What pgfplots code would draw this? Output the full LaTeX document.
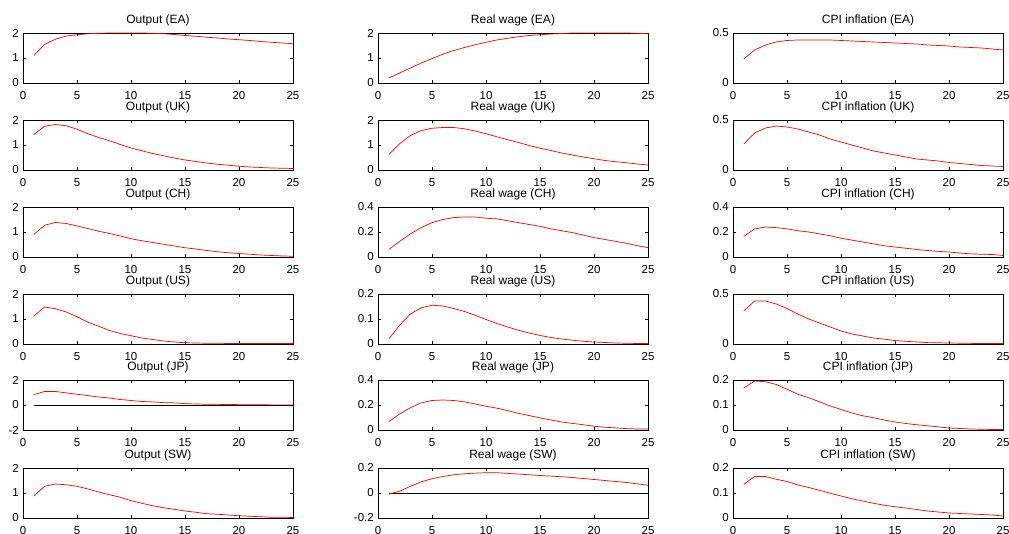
\documentclass[border=0pt]{standalone}
\usepackage{fontspec}
\setmainfont{Liberation Sans}
\usepackage{pgfplots}
\pgfplotsset{compat=1.18}
\pgfplotsset{irf/.style={
  scale only axis, width=270pt, height=50pt,
  xmin=0, xmax=25, xtick={0,5,10,15,20,25},
  anchor=south west,
  axis line style={line width=0.6pt, black},
  tick style={line width=0.5pt, black},
  major tick length=3pt,
  title style={font=\fontsize{12}{14}\selectfont, anchor=base, at={(0.5,1)}, yshift=3pt, inner sep=0pt},
  ticklabel style={font=\fontsize{11.5}{13}\selectfont},
  xticklabel style={anchor=base, yshift=-16.5pt, inner sep=0pt},
  yticklabel style={anchor=east, inner sep=0pt, xshift=-4pt},
  /pgf/number format/assume math mode=true,
  every axis plot/.append style={line width=0.7pt},
}}
\newcommand{\panel}[7]{%
\begin{axis}[irf, at={(#1pt,#2pt)}, title={#3}, ymin=#4, ymax=#5, ytick={#6}]
\addplot[black, line width=0.6pt] coordinates {(1,0) (25,0)};
\addplot[red] coordinates {#7};
\end{axis}}
\begin{document}
\begin{tikzpicture}
% Row 1: EA
\panel{23}{451}{Output (EA)}{0}{2}{0,1,2}{(1,1.1)(2,1.55)(3,1.75)(4,1.88)(5,1.93)(6,1.97)(7,1.99)(8,2.0)(9,2.0)(10,2.0)(11,2.0)(12,1.99)(13,1.97)(14,1.94)(15,1.9)(16,1.87)(17,1.83)(18,1.8)(19,1.76)(20,1.73)(21,1.7)(22,1.66)(23,1.63)(24,1.6)(25,1.57)}
\panel{378}{451}{Real wage (EA)}{0}{2}{0,1,2}{(1,0.2)(2,0.4)(3,0.6)(4,0.8)(5,0.98)(6,1.15)(7,1.3)(8,1.42)(9,1.53)(10,1.63)(11,1.72)(12,1.79)(13,1.85)(14,1.9)(15,1.93)(16,1.96)(17,1.98)(18,2.0)(19,2.0)(20,2.0)(21,2.0)(22,2.0)(23,2.0)(24,1.99)(25,1.97)}
\panel{733}{451}{CPI inflation (EA)}{0}{0.5}{0,0.5}{(1,0.24)(2,0.33)(3,0.38)(4,0.41)(5,0.425)(6,0.43)(7,0.43)(8,0.43)(9,0.43)(10,0.425)(11,0.42)(12,0.415)(13,0.41)(14,0.405)(15,0.4)(16,0.395)(17,0.39)(18,0.38)(19,0.375)(20,0.37)(21,0.36)(22,0.355)(23,0.35)(24,0.34)(25,0.33)}
% Row 2: UK
\panel{23}{364}{Output (UK)}{0}{2}{0,1,2}{(1,1.42)(2,1.75)(3,1.82)(4,1.77)(5,1.63)(6,1.45)(7,1.3)(8,1.17)(9,1.02)(10,0.88)(11,0.77)(12,0.66)(13,0.57)(14,0.48)(15,0.4)(16,0.34)(17,0.28)(18,0.23)(19,0.19)(20,0.15)(21,0.12)(22,0.1)(23,0.08)(24,0.07)(25,0.06)}
\panel{378}{364}{Real wage (UK)}{0}{2}{0,1,2}{(1,0.62)(2,1.05)(3,1.38)(4,1.58)(5,1.67)(6,1.7)(7,1.7)(8,1.65)(9,1.56)(10,1.45)(11,1.33)(12,1.21)(13,1.1)(14,0.98)(15,0.87)(16,0.78)(17,0.68)(18,0.6)(19,0.52)(20,0.45)(21,0.38)(22,0.33)(23,0.29)(24,0.24)(25,0.2)}
\panel{733}{364}{CPI inflation (UK)}{0}{0.5}{0,0.5}{(1,0.26)(2,0.37)(3,0.42)(4,0.44)(5,0.43)(6,0.41)(7,0.38)(8,0.35)(9,0.31)(10,0.28)(11,0.25)(12,0.22)(13,0.19)(14,0.17)(15,0.15)(16,0.13)(17,0.11)(18,0.1)(19,0.09)(20,0.075)(21,0.065)(22,0.055)(23,0.045)(24,0.04)(25,0.035)}
% Row 3: CH
\panel{23}{277}{Output (CH)}{0}{2}{0,1,2}{(1,0.9)(2,1.27)(3,1.38)(4,1.34)(5,1.24)(6,1.14)(7,1.03)(8,0.94)(9,0.84)(10,0.73)(11,0.65)(12,0.58)(13,0.51)(14,0.44)(15,0.37)(16,0.32)(17,0.26)(18,0.21)(19,0.17)(20,0.14)(21,0.11)(22,0.08)(23,0.06)(24,0.04)(25,0.03)}
\panel{378}{277}{Real wage (CH)}{0}{0.4}{0,0.2,0.4}{(1,0.06)(2,0.125)(3,0.185)(4,0.235)(5,0.275)(6,0.3)(7,0.315)(8,0.32)(9,0.32)(10,0.31)(11,0.305)(12,0.29)(13,0.275)(14,0.26)(15,0.245)(16,0.225)(17,0.21)(18,0.195)(19,0.175)(20,0.155)(21,0.14)(22,0.125)(23,0.11)(24,0.09)(25,0.075)}
\panel{733}{277}{CPI inflation (CH)}{0}{0.4}{0,0.2,0.4}{(1,0.165)(2,0.225)(3,0.24)(4,0.235)(5,0.225)(6,0.21)(7,0.2)(8,0.185)(9,0.17)(10,0.15)(11,0.135)(12,0.12)(13,0.105)(14,0.09)(15,0.08)(16,0.07)(17,0.06)(18,0.052)(19,0.045)(20,0.04)(21,0.032)(22,0.025)(23,0.022)(24,0.02)(25,0.012)}
% Row 4: US
\panel{23}{190}{Output (US)}{0}{2}{0,1,2}{(1,1.12)(2,1.48)(3,1.41)(4,1.28)(5,1.09)(6,0.87)(7,0.71)(8,0.54)(9,0.42)(10,0.33)(11,0.24)(12,0.18)(13,0.12)(14,0.08)(15,0.05)(16,0.04)(17,0.03)(18,0.03)(19,0.02)(20,0.02)(21,0.02)(22,0.02)(23,0.02)(24,0.02)(25,0.02)}
\panel{378}{190}{Real wage (US)}{0}{0.2}{0,0.1,0.2}{(1,0.02)(2,0.075)(3,0.12)(4,0.145)(5,0.155)(6,0.152)(7,0.142)(8,0.13)(9,0.115)(10,0.098)(11,0.082)(12,0.068)(13,0.055)(14,0.044)(15,0.034)(16,0.026)(17,0.02)(18,0.015)(19,0.011)(20,0.008)(21,0.006)(22,0.004)(23,0.003)(24,0.002)(25,0.002)}
\panel{733}{190}{CPI inflation (US)}{0}{0.5}{0,0.5}{(1,0.33)(2,0.43)(3,0.43)(4,0.4)(5,0.355)(6,0.3)(7,0.25)(8,0.21)(9,0.17)(10,0.13)(11,0.1)(12,0.08)(13,0.06)(14,0.048)(15,0.034)(16,0.027)(17,0.02)(18,0.014)(19,0.012)(20,0.01)(21,0.008)(22,0.006)(23,0.005)(24,0.004)(25,0.004)}
% Row 5: JP
\panel{23}{104}{Output (JP)}{-2}{2}{-2,0,2}{(1,0.83)(2,1.08)(3,1.08)(4,0.97)(5,0.86)(6,0.75)(7,0.64)(8,0.56)(9,0.44)(10,0.36)(11,0.28)(12,0.25)(13,0.19)(14,0.17)(15,0.11)(16,0.08)(17,0.06)(18,0.05)(19,0.04)(20,0.03)(21,0.02)(22,0.02)(23,0.01)(24,0.01)(25,0.01)}
\panel{378}{104}{Real wage (JP)}{0}{0.4}{0,0.2,0.4}{(1,0.067)(2,0.128)(3,0.178)(4,0.217)(5,0.236)(6,0.24)(7,0.236)(8,0.225)(9,0.208)(10,0.19)(11,0.175)(12,0.155)(13,0.133)(14,0.115)(15,0.097)(16,0.08)(17,0.064)(18,0.053)(19,0.042)(20,0.03)(21,0.022)(22,0.017)(23,0.011)(24,0.008)(25,0.008)}
\panel{733}{104}{CPI inflation (JP)}{0}{0.2}{0,0.1,0.2}{(1,0.168)(2,0.196)(3,0.193)(4,0.182)(5,0.163)(6,0.143)(7,0.129)(8,0.113)(9,0.096)(10,0.082)(11,0.068)(12,0.057)(13,0.049)(14,0.04)(15,0.032)(16,0.026)(17,0.021)(18,0.017)(19,0.0125)(20,0.008)(21,0.006)(22,0.004)(23,0.003)(24,0.002)(25,0.002)}
% Row 6: SW
\panel{23}{16}{Output (SW)}{0}{2}{0,1,2}{(1,0.88)(2,1.27)(3,1.36)(4,1.33)(5,1.27)(6,1.16)(7,1.04)(8,0.93)(9,0.83)(10,0.69)(11,0.59)(12,0.49)(13,0.41)(14,0.35)(15,0.28)(16,0.23)(17,0.17)(18,0.15)(19,0.12)(20,0.09)(21,0.07)(22,0.05)(23,0.03)(24,0.03)(25,0.02)}
\panel{378}{16}{Real wage (SW)}{-0.2}{0.2}{-0.2,0,0.2}{(1,-0.008)(2,0.014)(3,0.054)(4,0.089)(5,0.114)(6,0.132)(7,0.146)(8,0.154)(9,0.159)(10,0.162)(11,0.162)(12,0.157)(13,0.151)(14,0.146)(15,0.14)(16,0.135)(17,0.13)(18,0.124)(19,0.116)(20,0.108)(21,0.1)(22,0.092)(23,0.084)(24,0.073)(25,0.062)}
\panel{733}{16}{CPI inflation (SW)}{0}{0.2}{0,0.1,0.2}{(1,0.135)(2,0.166)(3,0.166)(4,0.155)(5,0.146)(6,0.132)(7,0.122)(8,0.111)(9,0.099)(10,0.088)(11,0.077)(12,0.068)(13,0.059)(14,0.051)(15,0.045)(16,0.04)(17,0.034)(18,0.028)(19,0.024)(20,0.02)(21,0.018)(22,0.016)(23,0.014)(24,0.012)(25,0.008)}
\pgfresetboundingbox
\path[use as bounding box] (0,0) rectangle (1009pt,534pt);
\end{tikzpicture}
\end{document}
